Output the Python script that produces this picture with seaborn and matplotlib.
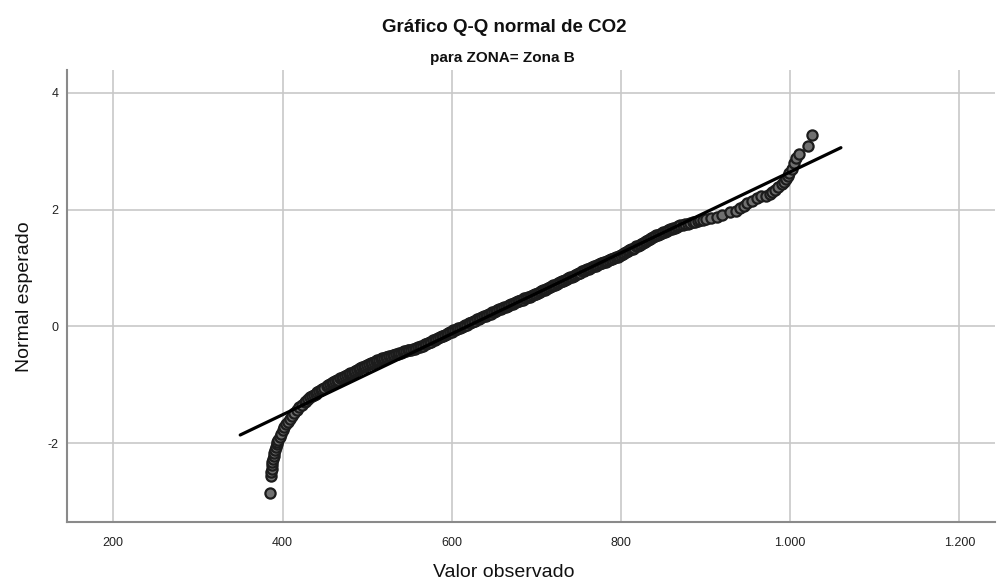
import matplotlib
matplotlib.use("Agg")
import matplotlib.pyplot as plt
import seaborn as sns
import pandas as pd

# Observed CO2 values (sorted, distinct) and their expected normal scores
observed = [
    385, 386, 386.5, 387, 387.5, 388, 389, 389.5, 390, 391,
    392, 393, 394, 395, 396.5, 398, 400, 402, 404, 406,
    408.5, 411, 414, 417, 420, 423, 426, 428, 430, 433,
    435, 437, 439, 441, 443, 445, 447, 449, 452,
    454, 456, 458, 460, 462, 464, 466, 468, 470, 472,
    474, 476, 478, 480, 482, 484, 486, 488, 490, 492,
    494, 496, 498, 500, 502, 504, 506, 508, 510, 512,
    514, 516, 518, 520, 522, 524, 526, 528, 530, 532, 534, 536, 538, 540,
    542, 544, 546, 548, 550, 552, 554, 556, 558, 560, 562, 564,
    566, 568, 570, 572, 574, 576, 578, 580, 582, 584, 586, 588,
    590, 592, 594, 596, 598, 600, 602, 604, 606, 608, 610, 612,
    614, 616, 618, 620, 622, 624, 626, 628, 630, 632, 634, 636, 638,
    640, 642, 644, 646, 648, 650, 652, 654, 656, 658, 660, 662, 664,
    666, 668, 670, 672, 674, 676, 678, 680, 682, 684, 686, 688, 690,
    692, 694, 696, 698, 700,
    702, 704, 706, 708, 710, 712, 714, 716, 718, 720, 722, 724, 726,
    728, 730, 732, 734, 736, 738, 740, 742, 744, 746, 748, 750, 752,
    754, 756, 758, 760, 762, 764,
    766, 768, 770, 772, 774, 776, 778, 780, 782, 784, 786, 788, 790,
    792, 794, 796, 798, 800,
    802, 804, 806, 808, 810, 812, 814, 816, 818, 820, 822, 824, 826,
    828, 830, 832, 834, 836, 838, 840, 842, 844, 846,
    848, 850, 852, 854, 856, 858, 860, 862, 864, 866, 868, 870,
    873, 876, 879, 882, 885, 888, 891, 894, 897, 900, 906, 913,
    920, 929, 936, 941, 945, 949, 955, 961, 966, 972,
    976, 978, 982, 986, 990, 993, 995, 997, 999, 1002,
    1004.5, 1007, 1010, 1021.5, 1025.5,
]
expected = [
    -2.85, -2.57, -2.50, -2.44, -2.38, -2.32, -2.27, -2.22, -2.17, -2.12,
    -2.07, -2.02, -1.98, -1.94, -1.89, -1.84, -1.78, -1.73, -1.68, -1.63,
    -1.58, -1.53, -1.48, -1.43, -1.38, -1.34, -1.30, -1.28, -1.25, -1.21,
    -1.19, -1.17, -1.15, -1.13, -1.11, -1.09, -1.07, -1.05, -1.02,
    -1.00, -0.99, -0.97, -0.96, -0.94, -0.92, -0.91, -0.89, -0.88, -0.86,
    -0.85, -0.83, -0.82, -0.80, -0.79, -0.78, -0.76, -0.75, -0.73, -0.72,
    -0.70, -0.69, -0.68, -0.66, -0.65, -0.63, -0.62, -0.61, -0.59, -0.58,
    -0.57, -0.56, -0.55, -0.54, -0.53, -0.52, -0.51, -0.50, -0.49, -0.49,
    -0.48, -0.47, -0.46, -0.45,
    -0.44, -0.43, -0.42, -0.41, -0.40, -0.40, -0.39, -0.38, -0.37, -0.36,
    -0.35, -0.34,
    -0.33, -0.31, -0.30, -0.28, -0.27, -0.26, -0.24, -0.23, -0.21, -0.20,
    -0.19, -0.17,
    -0.16, -0.14, -0.13, -0.12, -0.10, -0.09, -0.07, -0.06, -0.05, -0.03,
    -0.02, -0.01,
    0.01, 0.02, 0.03, 0.05, 0.06, 0.08, 0.09, 0.10, 0.12, 0.13, 0.14, 0.16,
    0.17,
    0.18, 0.20, 0.21, 0.22, 0.24, 0.25, 0.26, 0.28, 0.29, 0.30, 0.32, 0.33,
    0.34,
    0.35, 0.37, 0.38, 0.39, 0.40, 0.41, 0.43, 0.44, 0.45, 0.46, 0.48, 0.49,
    0.50,
    0.51, 0.52, 0.54, 0.55, 0.56,
    0.57, 0.59, 0.60, 0.62, 0.63, 0.64, 0.66, 0.67, 0.69, 0.70, 0.71, 0.73,
    0.74,
    0.76, 0.77, 0.78, 0.80, 0.81, 0.83, 0.84, 0.85, 0.87, 0.88, 0.90, 0.91,
    0.92,
    0.94, 0.95, 0.97, 0.98, 0.99, 1.00,
    1.02, 1.03, 1.04, 1.05, 1.06, 1.08, 1.09, 1.10, 1.11, 1.12, 1.13, 1.15,
    1.16,
    1.17, 1.18, 1.19, 1.21, 1.22,
    1.24, 1.25, 1.27, 1.29, 1.30, 1.32, 1.33, 1.35, 1.37, 1.38, 1.40, 1.41,
    1.43,
    1.45, 1.46, 1.48, 1.49, 1.51, 1.53, 1.54, 1.56, 1.57, 1.59,
    1.60, 1.61, 1.62, 1.64, 1.65, 1.66, 1.67, 1.68, 1.69, 1.71, 1.72, 1.73,
    1.74, 1.75, 1.76, 1.77, 1.78, 1.79, 1.80, 1.82, 1.83, 1.84, 1.86, 1.88,
    1.91, 1.95, 1.98, 2.02, 2.06, 2.11, 2.15, 2.19, 2.23, 2.24,
    2.26, 2.30, 2.34, 2.39, 2.43, 2.47, 2.52, 2.57, 2.62, 2.70,
    2.80, 2.88, 2.96, 3.09, 3.28,
]

# Reference line of the normal distribution
line_observed = [350, 1060]
line_expected = [-1.86, 3.06]

x_ticks = [200, 400, 600, 800, 1000, 1200]
x_tick_labels = ["200", "400", "600", "800", "1.000", "1.200"]
y_ticks = [-2, 0, 2, 4]
y_tick_labels = ["-2", "0", "2", "4"]

title = "Gráfico Q-Q normal de CO2"
subtitle = "para ZONA= Zona B"
x_label = "Valor observado"
y_label = "Normal esperado"

sns.set_theme(style="whitegrid")
plt.rcParams["font.family"] = ["Liberation Sans", "DejaVu Sans"]

fig = plt.figure(figsize=(9.98, 5.82), dpi=100)
fig.patch.set_facecolor("white")
ax = fig.add_axes([0.0669, 0.1031, 0.930, 0.7766])
ax.set_facecolor("white")

df = pd.DataFrame({"obs": observed, "exp": expected})
sns.scatterplot(data=df, x="obs", y="exp", s=54, color="#707070",
                edgecolor="#1c1c1c", linewidth=1.6, ax=ax, zorder=3,
                legend=False)
sns.lineplot(x=line_observed, y=line_expected, color="black",
             linewidth=2.3, ax=ax, zorder=4)

ax.set_xlim(145, 1242)
ax.set_ylim(-3.35, 4.39)
ax.set_xticks(x_ticks)
ax.set_xticklabels(x_tick_labels)
ax.set_yticks(y_ticks)
ax.set_yticklabels(y_tick_labels)
ax.tick_params(axis="both", length=0, labelsize=9, colors="#222222")
ax.tick_params(axis="x", pad=11)
ax.tick_params(axis="y", pad=6)
ax.set_xlabel("")
ax.set_ylabel("")

ax.grid(True, color="#c8c8c8", linewidth=1.2)
for side in ["top", "right"]:
    ax.spines[side].set_visible(False)
for side in ["left", "bottom"]:
    ax.spines[side].set_visible(True)
    ax.spines[side].set_color("#8a8a8a")
    ax.spines[side].set_linewidth(1.5)

fig.text(0.505, 0.952, title, ha="center", va="center",
         fontsize=13.5, fontweight="bold", color="#111111")
fig.text(0.503, 0.900, subtitle, ha="center", va="center",
         fontsize=11, fontweight="bold", color="#111111")
fig.text(0.505, 0.016, x_label, ha="center", va="center",
         fontsize=14, color="#111111")
fig.text(0.025, 0.49, y_label, ha="center", va="center",
         rotation=90, fontsize=14, color="#111111")

fig.savefig("out.png", dpi=100, facecolor="white")
